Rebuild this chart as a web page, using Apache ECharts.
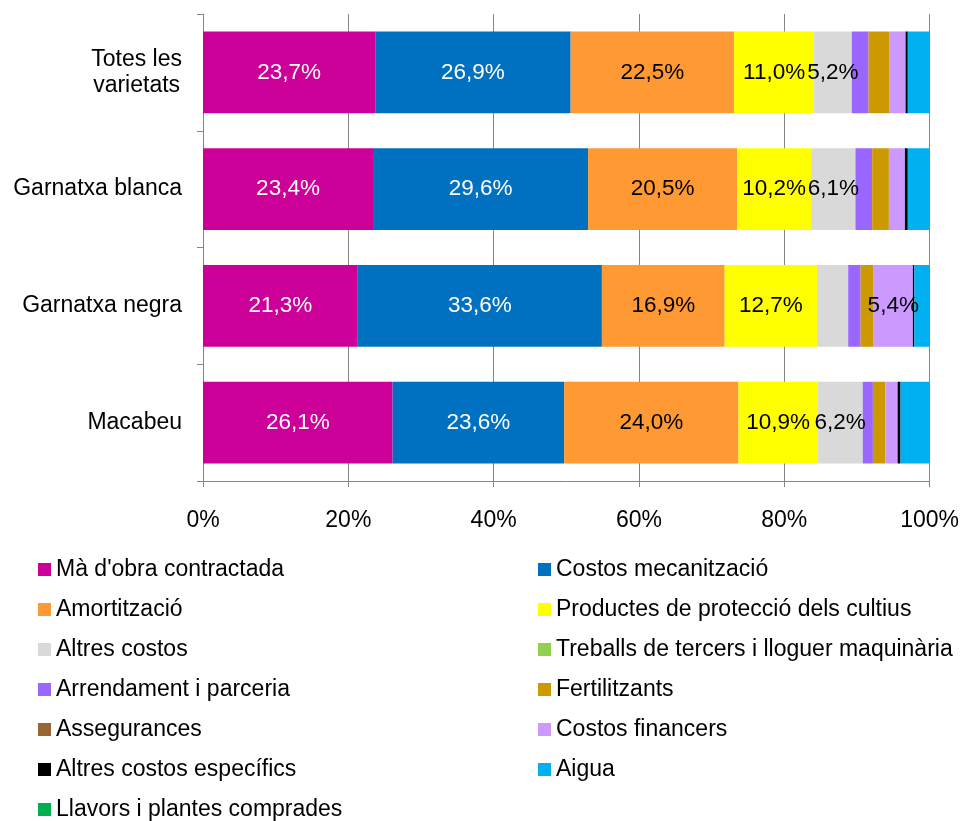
<!DOCTYPE html>
<html>
<head>
<meta charset="utf-8">
<script src="https://cdn.jsdelivr.net/npm/echarts@6/dist/echarts.min.js"></script>
<style>html,body{margin:0;padding:0;background:#fff}#c{width:962px;height:821px}</style>
</head>
<body>
<div id="c"></div>
<script>
var categories = ["Totes les\nvarietats", "Garnatxa blanca", "Garnatxa negra", "Macabeu"];
var seriesNames = ["Mà d'obra contractada", "Costos mecanització", "Amortització", "Productes de protecció dels cultius", "Altres costos", "Treballs de tercers i lloguer maquinària", "Arrendament i parceria", "Fertilitzants", "Assegurances", "Costos financers", "Altres costos específics", "Aigua", "Llavors i plantes comprades"];
var maObra = [23.7, 23.4, 21.3, 26.1];
var costosMec = [26.9, 29.6, 33.6, 23.6];
var amortitzacio = [22.5, 20.5, 16.9, 24.0];
var productes = [11.0, 10.2, 12.7, 10.9];
var altresCostos = [5.2, 6.1, 4.3, 6.2];
var treballs = [0, 0, 0, 0];
var arrendament = [2.3, 2.3, 1.7, 1.4];
var fertilitzants = [2.9, 2.3, 1.8, 1.7];
var assegurances = [0, 0, 0, 0];
var financers = [2.2, 2.2, 5.4, 1.7];
var altresEspecifics = [0.3, 0.4, 0.2, 0.4];
var aigua = [3.0, 3.0, 2.1, 4.0];
var llavors = [0, 0, 0, 0];
var xTicks = ["0%", "20%", "40%", "60%", "80%", "100%"];

var values = [maObra, costosMec, amortitzacio, productes, altresCostos, treballs, arrendament, fertilitzants, assegurances, financers, altresEspecifics, aigua, llavors];
var colors = ["#CC0099", "#0070C0", "#FF9933", "#FFFF00", "#D9D9D9", "#92D050", "#9966FF", "#CC9900", "#996633", "#CC99FF", "#000000", "#00B0F0", "#00B050"];

var font = "'Liberation Sans', Arial, sans-serif";
var series = values.map(function (arr, i) {
  return {
    name: seriesNames[i],
    type: 'bar',
    stack: 'total',
    barCategoryGap: '30%',
    data: arr,
    itemStyle: { color: colors[i] },
    label: {
      show: true,
      position: 'inside',
      fontFamily: font,
      fontSize: 22.5,
      color: i < 2 ? '#ffffff' : '#000000',
      formatter: function (p) {
        return p.value >= 5 ? p.value.toFixed(1).replace('.', ',') + '%' : '';
      }
    }
  };
});

var leftNames = [], rightNames = [];
seriesNames.forEach(function (n, i) { (i % 2 === 0 ? leftNames : rightNames).push(n); });
var legendCommon = {
  orient: 'vertical',
  icon: 'rect',
  itemWidth: 13,
  itemHeight: 13,
  itemGap: 17,
  height: 320,
  padding: 0,
  textStyle: { fontFamily: font, fontSize: 23, color: '#000', lineHeight: 23 }
};

var chart = echarts.init(document.getElementById('c'));
chart.setOption({
  animation: false,
  backgroundColor: '#fff',
  grid: { left: 203, right: 32, top: 14, bottom: 340, containLabel: false },
  xAxis: {
    type: 'value',
    min: 0, max: 100, interval: 20,
    axisLine: { show: true, lineStyle: { color: '#868686', width: 1 } },
    axisTick: { show: true, length: 6, lineStyle: { color: '#868686' } },
    splitLine: { show: true, lineStyle: { color: '#868686', width: 1 } },
    axisLabel: {
      fontFamily: font, fontSize: 23, color: '#000', margin: 28,
      formatter: function (v) { return xTicks[Math.round(v / 20)]; }
    }
  },
  yAxis: {
    type: 'category',
    inverse: true,
    data: categories,
    axisLine: { show: true, lineStyle: { color: '#868686' } },
    axisTick: { show: true, length: 6, lineStyle: { color: '#868686' } },
    axisLabel: {
      fontFamily: font, fontSize: 23, color: '#000', margin: 21,
      formatter: function (v) {
        return v.split('\n').map(function (s) { return '{c|' + s + '}'; }).join('\n');
      },
      rich: { c: { fontFamily: font, fontSize: 23, color: '#000', align: 'center', lineHeight: 26 } }
    }
  },
  legend: [
    Object.assign({ left: 38, top: 558, data: leftNames }, legendCommon),
    Object.assign({ left: 538, top: 558, data: rightNames }, legendCommon)
  ],
  series: series
});
</script>
</body>
</html>
